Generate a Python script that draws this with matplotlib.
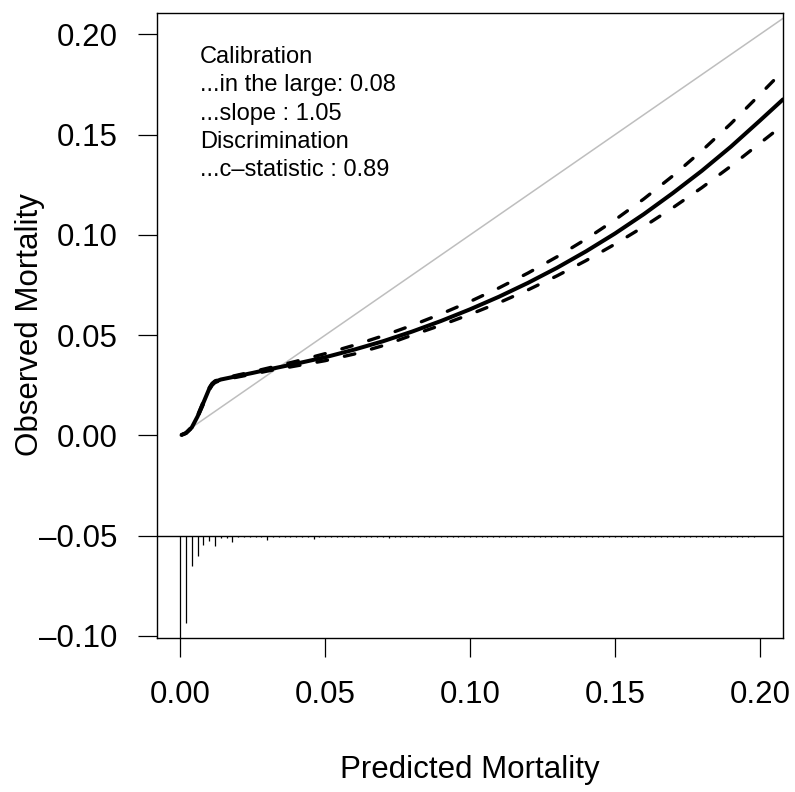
import matplotlib
matplotlib.use("Agg")
import matplotlib.pyplot as plt
import numpy as np

plt.rcParams['font.family'] = ['Liberation Sans', 'DejaVu Sans']

# ---- data ----
curve_x = [0.0005, 0.002, 0.004, 0.006, 0.008, 0.010, 0.011, 0.012, 0.014, 0.017,
           0.020, 0.025, 0.030, 0.040, 0.050, 0.060, 0.070, 0.080, 0.090, 0.100,
           0.110, 0.120, 0.130, 0.140, 0.150, 0.160, 0.170, 0.180, 0.190, 0.200, 0.208]
obs_mid = [0.0003, 0.0012, 0.0040, 0.0095, 0.0163, 0.0232, 0.0255, 0.0268, 0.0279, 0.0288,
           0.0297, 0.0312, 0.0328, 0.0358, 0.0390, 0.0428, 0.0470, 0.0518, 0.0571, 0.0629,
           0.0692, 0.0761, 0.0836, 0.0918, 0.1007, 0.1104, 0.1209, 0.1320, 0.1440, 0.1570, 0.1676]
obs_upper = [0.0003, 0.0013, 0.0043, 0.0100, 0.0170, 0.0238, 0.0260, 0.0272, 0.0283, 0.0292,
             0.0302, 0.0318, 0.0335, 0.0370, 0.0408, 0.0450, 0.0497, 0.0549, 0.0606, 0.0668,
             0.0736, 0.0810, 0.0891, 0.0979, 0.1075, 0.1180, 0.1295, 0.1420, 0.1555, 0.1700, 0.1818]
obs_lower = [0.0003, 0.0011, 0.0037, 0.0090, 0.0156, 0.0226, 0.0250, 0.0264, 0.0275, 0.0284,
             0.0292, 0.0306, 0.0321, 0.0347, 0.0373, 0.0406, 0.0448, 0.0500, 0.0550, 0.0604,
             0.0662, 0.0726, 0.0796, 0.0872, 0.0954, 0.1042, 0.1136, 0.1236, 0.1343, 0.1457, 0.1548]

# spike histogram: bin positions and spike lengths (downward from baseline)
spike_x = [round(0.002 * i, 3) for i in range(100)]
spike_len = ([0.0510, 0.0433, 0.0153, 0.0100, 0.0044, 0.0025, 0.0050, 0.0012, 0.0010, 0.0030,
              0.0008, 0.0007, 0.0007, 0.0007, 0.0007, 0.0022, 0.0006, 0.0006, 0.0006, 0.0006,
              0.0006, 0.0006, 0.0006, 0.0015, 0.0006, 0.0006, 0.0006, 0.0006, 0.0006, 0.0006,
              0.0006, 0.0006, 0.0006, 0.0006, 0.0006, 0.0006, 0.0012]
             + [0.0006] * 63)
spike_base = -0.05

xticks = [0.00, 0.05, 0.10, 0.15, 0.20]
xtick_labels = ["0.00", "0.05", "0.10", "0.15", "0.20"]
yticks = [-0.10, -0.05, 0.00, 0.05, 0.10, 0.15, 0.20]
ytick_labels = ["\u20130.10", "\u20130.05", "0.00", "0.05", "0.10", "0.15", "0.20"]

stats_lines = ["Calibration", "...in the large: 0.08", "...slope : 1.05",
               "Discrimination", "...c\u2013statistic : 0.89"]

# ---- figure ----
fig = plt.figure(figsize=(7.95, 7.92), dpi=100)
ax = fig.add_axes([157 / 795, 1 - 638 / 792, 626 / 795, 625 / 792])
ax.set_xlim(-0.008, 0.208)
ax.set_ylim(-0.101, 0.2107)

# ideal line
ax.plot([0, 0.25], [0, 0.25], color="#BEBEBE", lw=1.1, zorder=1)

# baseline for spikes
ax.axhline(spike_base, color="black", lw=1.0, zorder=2)
sx = np.array(spike_x)
sl = np.array(spike_len)
ax.vlines(sx, spike_base - sl, spike_base, color="black", lw=0.9, zorder=2)

# calibration curve and CI
ax.plot(curve_x, obs_mid, color="black", lw=2.9, solid_capstyle="round",
        solid_joinstyle="round", zorder=4)
for band in (obs_upper, obs_lower):
    ax.plot(curve_x, band, color="black", lw=2.4, linestyle=(0, (3.2, 5.2)),
            dash_capstyle="round", zorder=3)

# text block
y0 = 57
for i, s in enumerate(stats_lines):
    fig.text(200 / 795, 1 - (y0 + 28.3 * i) / 792, s, fontsize=17, ha="left", va="center")

# axes style
ax.set_xticks(xticks)
ax.set_xticklabels(xtick_labels)
ax.set_yticks(yticks)
ax.set_yticklabels(ytick_labels)
ax.tick_params(axis="both", direction="out", length=13.5, width=0.9, labelsize=22.5,
               color="black")
ax.tick_params(axis="x", pad=17)
ax.tick_params(axis="y", pad=15)
for sp in ax.spines.values():
    sp.set_linewidth(1.0)
    sp.set_color("black")

fig.text(470 / 795, 1 - 770 / 792, "Predicted Mortality", fontsize=22.5,
         ha="center", va="center")
fig.text(30 / 795, 1 - 325 / 792, "Observed Mortality", fontsize=22.5,
         ha="center", va="center", rotation=90)

fig.savefig("out.png", dpi=100)
